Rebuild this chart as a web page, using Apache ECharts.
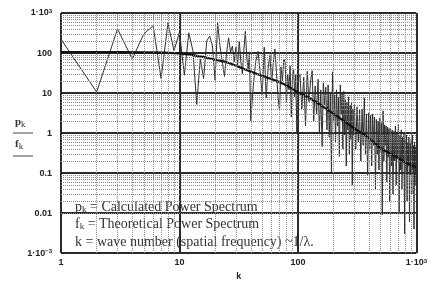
<!DOCTYPE html>
<html>
<head>
<meta charset="utf-8">
<script src="https://cdn.jsdelivr.net/npm/echarts@6/dist/echarts.min.js"></script>
<style>
  html, body { margin: 0; padding: 0; background: #fff; }
  #chart { width: 430px; height: 286px; }
</style>
</head>
<body>
<div id="chart"></div>
<script>
// wave numbers and calculated power spectrum p_k
var kCalc = [1, 2, 3, 4, 5, 6, 7, 8, 9, 10, 11, 12, 13, 14, 15, 16, 17, 18, 19, 20,
  21, 22, 23, 24, 25, 26, 27, 28, 29, 30, 31, 32, 33, 34, 35, 36, 37, 38, 39, 40,
  42, 44, 46, 48, 50, 52, 54, 56, 58, 60, 62, 64, 66, 68, 70, 72, 74, 76, 78, 80,
  82, 84, 86, 88, 90, 92, 94, 96, 98, 100,
  104, 108, 112, 116, 120, 124, 128, 132, 136, 140, 144, 148, 152, 156, 160, 164, 168, 172, 176, 180,
  184, 188, 192, 196, 200, 204, 208, 212, 216, 220, 224, 228, 232, 236, 240, 244, 248, 252, 256, 260,
  264, 268, 272, 276, 280, 284, 288, 292, 296, 300,
  308, 316, 324, 332, 340, 348, 356, 364, 372, 380, 388, 396, 404, 412, 420, 428, 436, 444, 452, 460,
  468, 476, 484, 492, 500, 508, 516, 524, 532, 540, 548, 556, 564, 572, 580, 588, 596,
  606, 616, 626, 636, 646, 656, 666, 676, 686, 696, 706, 716, 726, 736, 746, 756, 766, 776, 786, 796,
  806, 816, 826, 836, 846, 856, 866, 876, 886, 896, 906, 916, 926, 936, 946, 956, 966, 976, 986, 996, 1000];
var pCalc = [220, 10.6, 400, 71, 300, 480, 23, 560, 114, 330, 28, 320, 114, 5.2, 71, 23, 200, 265, 150, 21,
  560, 150, 60, 26, 100, 240, 104, 150, 60, 140, 50, 200, 60, 30, 120, 350, 80, 40, 100, 2.0,
  15, 59, 110, 34, 9, 140, 7.5, 40, 90, 18, 55, 125, 30, 8, 3.6, 45, 20, 70, 60, 6,
  30, 12, 48, 2.5, 25, 40, 8, 30, 0.95, 22,
  30, 4, 25, 1.5, 35, 6, 20, 36, 2, 15, 3, 22, 1, 12, 0.46, 18, 5, 14, 1.2, 16,
  0.8, 10, 0.1, 34, 2, 9, 0.6, 12, 1.5, 8, 0.26, 16, 3, 10, 0.4, 11, 0.9, 7, 0.15, 6,
  1.2, 8, 0.3, 5, 0.7, 6, 0.05, 4, 0.9, 5,
  0.4, 4.5, 0.6, 3.8, 0.2, 4, 0.5, 7.6, 0.3, 3, 0.09, 3.2, 0.4, 2.8, 0.15, 3, 0.5, 2.5, 0.04, 2.2,
  0.3, 2, 0.12, 2.4, 0.35, 1.8, 0.009, 3.6, 0.2, 1.6, 0.5, 1.5, 0.06, 1.4, 0.25, 1.3, 0.02,
  1.3, 0.15, 1.2, 0.03, 1.1, 0.2, 1.5, 0.05, 1.0, 0.25, 1.66, 0.01, 0.9, 0.12, 1.2, 0.04, 0.8, 0.18, 1.0, 0.003,
  0.7, 0.1, 0.9, 0.02, 0.6, 0.15, 0.8, 0.006, 0.55, 0.09, 0.7, 0.03, 0.9, 0.12, 0.5, 0.004, 0.6, 0.05, 0.45, 0.08, 0.3];

// theoretical power spectrum f_k
var kTheory = [1, 2, 5, 10, 15, 20, 25, 35, 50, 75, 100, 130, 170, 220, 300, 400, 500, 650, 800, 1000];
var fTheory = [105, 105, 104, 98, 82, 68, 59, 40, 27, 17, 10.5, 7, 4.2, 2.5, 1.3, 0.75, 0.42, 0.27, 0.19, 0.14];

// tick labels
var xTickValues = [1, 10, 100, 1000];
var xTickLabels = ['1', '10', '100', '1·10{sup|3}'];
var yTickValues = [0.001, 0.01, 0.1, 1, 10, 100, 1000];
var yTickLabels = ['1·10{sup|−3}', '0.01', '0.1', '1', '10', '100', '1·10{sup|3}'];

function tickText(values, labels, v) {
  var e = Math.round(Math.log10(v));
  for (var i = 0; i < values.length; i++) {
    if (Math.round(Math.log10(values[i])) === e) return labels[i];
  }
  return '';
}

function zip(a, b) {
  var out = [];
  for (var i = 0; i < a.length; i++) out.push([a[i], b[i]]);
  return out;
}

// dotted minor grid at 2..9 of each decade
function minorLines(axisKey, lo, hi) {
  var out = [];
  for (var d = lo; d < hi; d *= 10) {
    for (var m = 2; m <= 9; m++) {
      var o = {};
      o[axisKey] = +(d * m).toPrecision(3);
      out.push(o);
    }
  }
  return out;
}

var labelRich = {
  sup: { fontSize: 6, fontWeight: 'bold', verticalAlign: 'top', lineHeight: 8, color: '#222' }
};

var serif = '"Liberation Serif", "DejaVu Serif", serif';
var noteRich = {
  sub: { fontSize: 9, fontFamily: serif, verticalAlign: 'bottom', lineHeight: 14, color: '#333' }
};

var myChart = echarts.init(document.getElementById('chart'));
var option = {
  backgroundColor: '#ffffff',
  animation: false,
  grid: { left: 61, right: 7, top: 13, bottom: 27 },
  xAxis: {
    type: 'log',
    logBase: 10,
    min: 1,
    max: 1000,
    interval: 1,
    name: 'k',
    nameLocation: 'middle',
    nameGap: 18,
    nameTextStyle: { fontSize: 9, fontWeight: 'bold', color: '#222', fontFamily: 'Liberation Sans' },
    axisLine: { show: false },
    axisTick: { show: false },
    axisLabel: {
      margin: 5,
      fontSize: 9,
      fontWeight: 'bold',
      color: '#222',
      fontFamily: 'Liberation Sans',
      rich: labelRich,
      formatter: function (v) { return tickText(xTickValues, xTickLabels, v); }
    },
    splitLine: { show: true, lineStyle: { color: '#2a2a2a', width: 2 } }
  },
  yAxis: {
    type: 'log',
    logBase: 10,
    min: 0.001,
    max: 1000,
    interval: 1,
    axisLine: { show: false },
    axisTick: { show: false },
    axisLabel: {
      margin: 9,
      fontSize: 9,
      fontWeight: 'bold',
      color: '#222',
      fontFamily: 'Liberation Sans',
      rich: labelRich,
      formatter: function (v) { return tickText(yTickValues, yTickLabels, v); }
    },
    splitLine: { show: true, lineStyle: { color: '#2a2a2a', width: 2 } }
  },
  graphic: [
    { type: 'text', left: 15, top: 117, style: { text: 'p{sub|k}', fontSize: 11, fontWeight: 'bold', fontFamily: serif, fill: '#333', rich: noteRich } },
    { type: 'line', shape: { x1: 13, y1: 133, x2: 33, y2: 133 }, style: { stroke: '#444', lineWidth: 1 } },
    { type: 'text', left: 15, top: 139, style: { text: 'f{sub|k}', fontSize: 11, fontWeight: 'bold', fontFamily: serif, fill: '#333', rich: noteRich } },
    { type: 'line', shape: { x1: 13, y1: 156, x2: 33, y2: 156 }, style: { stroke: '#444', lineWidth: 1 } },
    { type: 'text', left: 75, top: 200, style: { text: 'p{sub|k} = Calculated Power Spectrum', fontSize: 14, fontFamily: serif, fill: '#333', rich: noteRich } },
    { type: 'text', left: 75, top: 217, style: { text: 'f{sub|k} = Theoretical Power Spectrum', fontSize: 14, fontFamily: serif, fill: '#333', rich: noteRich } },
    { type: 'text', left: 75, top: 235, style: { text: 'k = wave number (spatial frequency) ~1/λ.', fontSize: 14, fontFamily: serif, fill: '#333' } }
  ],
  series: [
    {
      name: 'minor grid',
      type: 'line',
      data: [],
      z: 1,
      silent: true,
      markLine: {
        silent: true,
        symbol: 'none',
        label: { show: false },
        lineStyle: { color: '#8a8a8a', type: 'dotted', width: 1 },
        data: minorLines('xAxis', 1, 1000).concat(minorLines('yAxis', 0.001, 1000))
      }
    },
    {
      name: 'p_k',
      type: 'line',
      data: zip(kCalc, pCalc),
      z: 3,
      showSymbol: false,
      symbol: 'none',
      lineStyle: { color: '#2e2e2e', width: 1 }
    },
    {
      name: 'f_k',
      type: 'line',
      data: zip(kTheory, fTheory),
      z: 4,
      smooth: true,
      showSymbol: false,
      symbol: 'none',
      lineStyle: { color: '#111', width: 2.2 }
    }
  ]
};
// 使用刚指定的配置项和数据显示图表。
myChart.setOption(option);
</script>
</body>
</html>
